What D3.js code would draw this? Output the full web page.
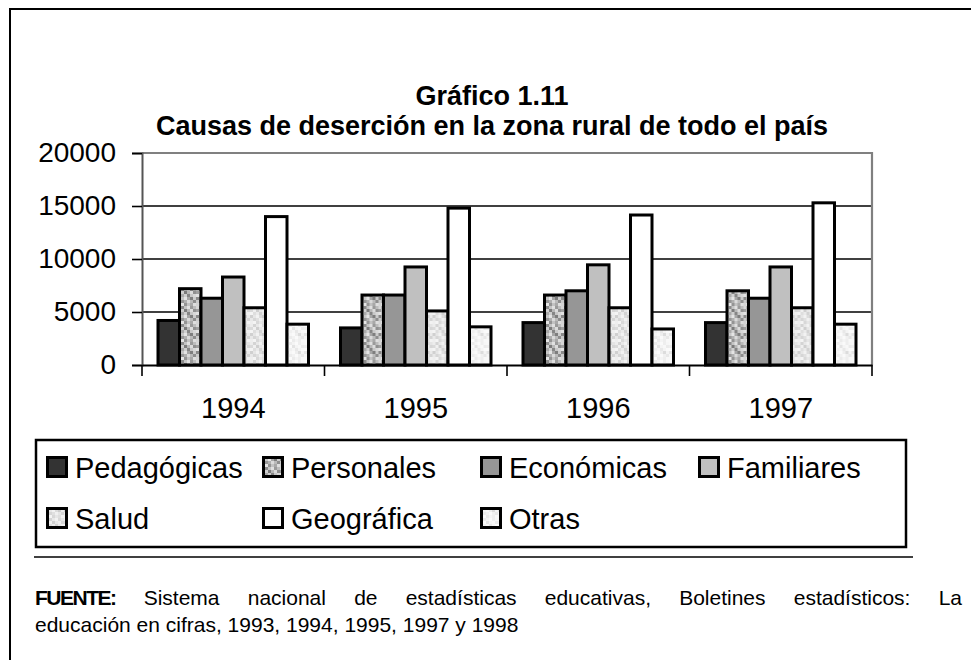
<!DOCTYPE html>
<html>
<head>
<meta charset="utf-8">
<script src="https://cdn.jsdelivr.net/npm/d3@7"></script>
<style>
  html, body { margin: 0; padding: 0; background: #fff; }
  svg { display: block; font-family: "Liberation Sans", Arial, sans-serif; }
</style>
</head>
<body>
<svg id="chart" width="971" height="660"></svg>
<script>
// ---- data ----
const years = ["1994", "1995", "1996", "1997"];
const causes = ["Pedagógicas", "Personales", "Económicas", "Familiares", "Salud", "Geográfica", "Otras"];
const pedagogicas = [4200, 3500, 4000, 4000];
const personales  = [7200, 6600, 6600, 7000];
const economicas  = [6300, 6600, 7000, 6300];
const familiares  = [8300, 9250, 9450, 9250];
const salud       = [5400, 5100, 5400, 5400];
const geografica  = [14000, 14800, 14150, 15300];
const otras       = [3850, 3600, 3400, 3850];
const yTicks = [0, 5000, 10000, 15000, 20000];
const titleLines = ["Gráfico 1.11", "Causas de deserción en la zona rural de todo el país"];
const sourceLabel = "FUENTE:";
const sourceLine1 = "Sistema nacional de estadísticas educativas, Boletines estadísticos: La";
const sourceLine2 = "educación en cifras, 1993, 1994, 1995, 1997 y 1998";

const seriesValues = [pedagogicas, personales, economicas, familiares, salud, geografica, otras];

// ---- styles ----
const fills = ["#333333", "url(#patPers)", "#969696", "#c0c0c0", "url(#patSalud)", "#ffffff", "url(#patOtras)"];
const FONT = "'Liberation Sans', Arial, sans-serif";

const svg = d3.select("#chart");
const defs = svg.append("defs");

function makePattern(id, base, cells) {
  const n = cells.length;
  const cs = 3;
  const p = defs.append("pattern").attr("id", id).attr("patternUnits", "userSpaceOnUse")
    .attr("width", cs * cells[0].length).attr("height", cs * n);
  p.append("rect").attr("width", cs * cells[0].length).attr("height", cs * n).attr("fill", base);
  cells.forEach((row, r) => row.forEach((c, k) => {
    p.append("rect").attr("x", k * cs).attr("y", r * cs).attr("width", cs).attr("height", cs).attr("fill", c);
  }));
}
makePattern("patPers", "#b4b4b4", [
  ["#d6d6d6", "#8c8c8c", "#c4c4c4", "#e0e0e0", "#9a9a9a", "#bcbcbc"],
  ["#a0a0a0", "#d0d0d0", "#7c7c7c", "#b8b8b8", "#dcdcdc", "#909090"],
  ["#e2e2e2", "#aaaaaa", "#cfcfcf", "#868686", "#c8c8c8", "#d8d8d8"],
  ["#8a8a8a", "#c6c6c6", "#e4e4e4", "#a6a6a6", "#7e7e7e", "#cccccc"],
  ["#cacaca", "#969696", "#b0b0b0", "#dadada", "#bababa", "#8e8e8e"],
  ["#d4d4d4", "#e6e6e6", "#949494", "#c2c2c2", "#a8a8a8", "#dedede"]
]);
makePattern("patSalud", "#e2e2e2", [
  ["#ececec", "#d4d4d4", "#e8e8e8", "#f2f2f2", "#d8d8d8", "#e4e4e4"],
  ["#dadada", "#f0f0f0", "#cfcfcf", "#e6e6e6", "#eeeeee", "#d6d6d6"],
  ["#f4f4f4", "#dedede", "#eaeaea", "#d2d2d2", "#e8e8e8", "#f0f0f0"],
  ["#d0d0d0", "#e6e6e6", "#f2f2f2", "#dcdcdc", "#cccccc", "#eaeaea"],
  ["#e8e8e8", "#d6d6d6", "#e0e0e0", "#f0f0f0", "#e4e4e4", "#d4d4d4"],
  ["#eeeeee", "#f4f4f4", "#d8d8d8", "#e6e6e6", "#dedede", "#f2f2f2"]
]);
makePattern("patOtras", "#f2f2f2", [
  ["#f8f8f8", "#ececec", "#f4f4f4", "#fafafa", "#eeeeee", "#f6f6f6"],
  ["#eeeeee", "#fafafa", "#e4e4e4", "#f4f4f4", "#f8f8f8", "#ebebeb"],
  ["#fbfbfb", "#f0f0f0", "#f6f6f6", "#e8e8e8", "#f4f4f4", "#fafafa"],
  ["#e6e6e6", "#f6f6f6", "#fafafa", "#eeeeee", "#dcdcdc", "#f4f4f4"],
  ["#f6f6f6", "#ececec", "#f2f2f2", "#fafafa", "#f0f0f0", "#e8e8e8"],
  ["#f8f8f8", "#fbfbfb", "#ebebeb", "#f4f4f4", "#eeeeee", "#f8f8f8"]
]);

// outer frame (left and top edges visible)
svg.append("path").attr("d", "M10,660 L10,9 L971,9").attr("fill", "none")
  .attr("stroke", "#000").attr("stroke-width", 2);

// title
svg.append("g").selectAll("text").data(titleLines).join("text")
  .attr("x", 492).attr("y", (d, i) => 105 + i * 30)
  .attr("text-anchor", "middle").attr("font-family", FONT)
  .attr("font-weight", "bold").attr("font-size", 27).attr("fill", "#000")
  .text(d => d);

// scales
const plot = { left: 142, right: 872, top: 153, bottom: 365 };
const x0 = d3.scaleBand().domain(years).range([plot.left, plot.right]).paddingInner(0).paddingOuter(0);
const x1 = d3.scaleBand().domain(causes).range([16, x0.bandwidth() - 16]).padding(0);
const y = d3.scaleLinear().domain([0, 20000]).range([plot.bottom, plot.top]);

// gridlines
svg.append("g").selectAll("line").data(yTicks.filter(t => t > 0 && t < 20000)).join("line")
  .attr("x1", plot.left).attr("x2", plot.right)
  .attr("y1", d => y(d)).attr("y2", d => y(d))
  .attr("stroke", "#000").attr("stroke-width", 1.6);

// plot frame: top and right grey
svg.append("path")
  .attr("d", `M${plot.left},${plot.top} L${plot.right},${plot.top} L${plot.right},${plot.bottom}`)
  .attr("fill", "none").attr("stroke", "#808080").attr("stroke-width", 2.2);

// bars
const groups = svg.append("g").selectAll("g").data(years).join("g")
  .attr("transform", d => `translate(${x0(d)},0)`);
groups.selectAll("rect").data((yr, yi) => causes.map((c, ci) => ({ c, ci, v: seriesValues[ci][yi] })))
  .join("rect")
  .attr("x", d => x1(d.c)).attr("width", x1.bandwidth())
  .attr("y", d => y(d.v)).attr("height", d => y(0) - y(d.v))
  .attr("fill", d => fills[d.ci]).attr("stroke", "#000").attr("stroke-width", 3)
  .attr("stroke-linejoin", "miter");

// y axis
const yAxis = d3.axisLeft(y).tickValues(yTicks).tickSize(10).tickPadding(16).tickFormat(d3.format("d"));
const gy = svg.append("g").attr("transform", `translate(${plot.left},0)`).call(yAxis);
gy.select(".domain").attr("stroke", "#555").attr("stroke-width", 2);
gy.selectAll(".tick line").attr("stroke", "#000").attr("stroke-width", 1.6);
gy.selectAll(".tick text").attr("font-family", FONT).attr("font-size", 28).attr("fill", "#000");

// x axis
const xAxis = d3.axisBottom(x0).tickSize(0).tickPadding(32);
const gx = svg.append("g").attr("transform", `translate(0,${plot.bottom})`).call(xAxis);
gx.select(".domain").attr("stroke", "#000").attr("stroke-width", 2);
gx.selectAll(".tick text").attr("font-family", FONT).attr("font-size", 29).attr("fill", "#000");
// category separator ticks
svg.append("g").selectAll("line").data(years.concat(["end"])).join("line")
  .attr("x1", d => d === "end" ? plot.right : x0(d)).attr("x2", d => d === "end" ? plot.right : x0(d))
  .attr("y1", plot.bottom).attr("y2", plot.bottom + 11)
  .attr("stroke", "#000").attr("stroke-width", 1.6);

// legend
svg.append("rect").attr("x", 36).attr("y", 440).attr("width", 870).attr("height", 107)
  .attr("fill", "none").attr("stroke", "#000").attr("stroke-width", 2.5);
const legCols = [46, 262, 480, 698];
const legRows = [467, 518];
const leg = svg.append("g").selectAll("g").data(causes).join("g")
  .attr("transform", (d, i) => `translate(${legCols[i % 4]},${legRows[Math.floor(i / 4)]})`);
leg.append("rect").attr("x", 1.5).attr("y", -9.5).attr("width", 19).attr("height", 19)
  .attr("fill", (d, i) => fills[i]).attr("stroke", "#000").attr("stroke-width", 3);
leg.append("text").attr("x", 29).attr("y", 10.5).attr("font-family", FONT)
  .attr("font-size", 29).attr("fill", "#000").text(d => d);

// separator line
svg.append("line").attr("x1", 34).attr("x2", 913).attr("y1", 557).attr("y2", 557)
  .attr("stroke", "#000").attr("stroke-width", 1.5);

// source (justified first line)
const srcSize = 21;
const src = svg.append("g");
const lab = src.append("text").attr("x", 35).attr("y", 605).attr("font-family", FONT)
  .attr("font-weight", "bold").attr("font-size", srcSize).attr("letter-spacing", -1.5).text(sourceLabel);
const words = sourceLine1.split(" ");
const wEls = words.map(w => src.append("text").attr("y", 605).attr("font-family", FONT)
  .attr("font-size", srcSize).attr("fill", "#000").text(w));
const labW = lab.node().getComputedTextLength();
const widths = wEls.map(e => e.node().getComputedTextLength());
const startX = 35 + labW, endX = 962;
const gap = (endX - startX - d3.sum(widths)) / words.length;
let cx = startX + gap;
wEls.forEach((e, i) => { e.attr("x", cx); cx += widths[i] + gap; });
src.append("text").attr("x", 35).attr("y", 632).attr("font-family", FONT)
  .attr("font-size", srcSize).attr("fill", "#000").text(sourceLine2);
</script>
</body>
</html>
